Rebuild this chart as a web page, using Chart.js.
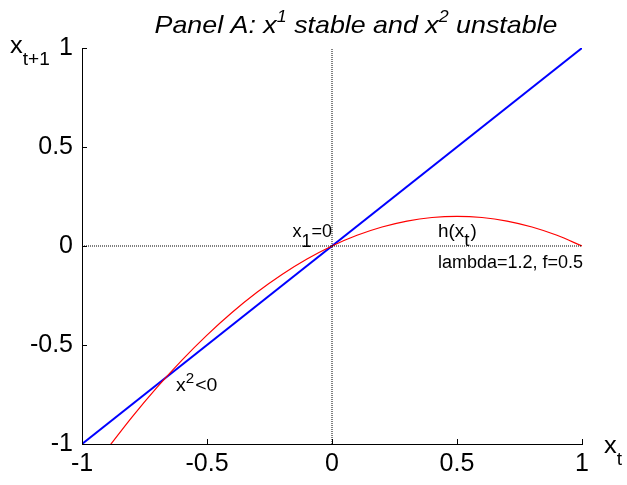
<!DOCTYPE html>
<html>
<head>
<meta charset="utf-8">
<script src="https://cdn.jsdelivr.net/npm/chart.js@4/dist/chart.umd.min.js"></script>
<style>
html,body{margin:0;padding:0;background:#fff;}
#wrap{width:627px;height:485px;position:relative;}
</style>
</head>
<body>
<div id="wrap"><canvas id="c" width="627" height="485"></canvas></div>
<script>
// ---- data ----
const hX = [-0.9, -0.8, -0.7, -0.6, -0.5, -0.4, -0.3, -0.2, -0.1, 0, 0.1, 0.2, 0.3, 0.4, 0.5, 0.6, 0.7, 0.8, 0.9, 1.0];
const hY = [-1.026, -0.864, -0.714, -0.576, -0.45, -0.336, -0.234, -0.144, -0.066, 0, 0.054, 0.096, 0.126, 0.144, 0.15, 0.144, 0.126, 0.096, 0.054, 0];
const diagX = [-1, 1];
const diagY = [-1, 1];
const zeroLineX = [-1, 1];
const zeroLineY = [0, 0];
const tickValues = [-1, -0.5, 0, 0.5, 1];
const tickLabels = ['-1', '-0.5', '0', '0.5', '1'];
const titleParts = [
  {t: 'Panel A: x', s: 24}, {t: '1', s: 16, dy: -11}, {t: ' stable and x', s: 24},
  {t: '2', s: 16, dy: -11}, {t: ' unstable', s: 24}
];

const FONT = '"Liberation Sans", Arial, sans-serif';
const pts = (xs, ys) => xs.map((x, i) => ({x: x, y: ys[i]}));

function drawRich(ctx, x, y, parts, align, italic, sx) {
  sx = sx || 1;
  ctx.save();
  ctx.textBaseline = 'alphabetic';
  ctx.textAlign = 'left';
  ctx.fillStyle = '#000';
  let w = 0;
  parts.forEach(p => { ctx.font = (italic ? 'italic ' : '') + p.s + 'px ' + FONT; w += ctx.measureText(p.t).width + (p.gap || 0); });
  w *= sx;
  let start = align === 'center' ? x - w / 2 : (align === 'right' ? x - w : x);
  ctx.translate(start, y);
  ctx.scale(sx, 1);
  let cx = 0;
  parts.forEach(p => {
    ctx.font = (italic ? 'italic ' : '') + p.s + 'px ' + FONT;
    cx += (p.gap || 0);
    ctx.fillText(p.t, cx, (p.dy || 0));
    cx += ctx.measureText(p.t).width;
  });
  ctx.restore();
}

const decor = {
  id: 'decor',
  afterDatasetsDraw(chart) {
    const ctx = chart.ctx, xs = chart.scales.x, ys = chart.scales.y, a = chart.chartArea;
    // inward ticks
    ctx.save();
    ctx.strokeStyle = '#000';
    ctx.lineWidth = 1;
    tickValues.forEach(v => {
      const py = Math.round(ys.getPixelForValue(v)) + 0.5;
      ctx.beginPath(); ctx.moveTo(a.left, py); ctx.lineTo(a.left + 5, py); ctx.stroke();
      const px = Math.round(xs.getPixelForValue(v)) + 0.5;
      ctx.beginPath(); ctx.moveTo(px, a.bottom); ctx.lineTo(px, a.bottom - 5); ctx.stroke();
    });
    ctx.restore();
    // annotations
    drawRich(ctx, xs.getPixelForValue(0), ys.getPixelForValue(0.045),
      [{t: 'x', s: 18}, {t: '1', s: 18, dy: 10}, {t: '=0', s: 18}], 'right');
    drawRich(ctx, xs.getPixelForValue(0.424), ys.getPixelForValue(0.045),
      [{t: 'h(x', s: 18}, {t: 't', s: 18, dy: 9}, {t: ')', s: 18, gap: 1}], 'left', false, 1.05);
    drawRich(ctx, xs.getPixelForValue(0.424), ys.getPixelForValue(-0.111),
      [{t: 'lambda=1.2, f=0.5', s: 18}], 'left');
    drawRich(ctx, xs.getPixelForValue(-0.624), ys.getPixelForValue(-0.732),
      [{t: 'x', s: 18}, {t: '2', s: 14, dy: -8}, {t: '<0', s: 18, gap: 1}], 'left', false, 1.08);
    // axis labels
    drawRich(ctx, a.left - 72, a.top + 5,
      [{t: 'x', s: 24}, {t: 't+1', s: 18, dy: 12}], 'left', false, 1.06);
    drawRich(ctx, a.right + 22, a.bottom + 9,
      [{t: 'x', s: 24}, {t: 't', s: 18, dy: 12}], 'left', false, 1.06);
    // title
    drawRich(ctx, (a.left + a.right) / 2 + 24, 33, titleParts, 'center', true, 1.117);
  }
};

new Chart(document.getElementById('c'), {
  type: 'scatter',
  data: {
    datasets: [
      {data: pts(zeroLineX, zeroLineY), showLine: true, borderColor: '#000', borderWidth: 1, borderDash: [1, 1], pointRadius: 0},
      {data: pts(zeroLineY, zeroLineX), showLine: true, borderColor: '#000', borderWidth: 1, borderDash: [1, 1], pointRadius: 0},
      {data: pts(hX, hY), showLine: true, borderColor: '#ff0000', borderWidth: 1.2, pointRadius: 0, cubicInterpolationMode: 'monotone'},
      {data: pts(diagX, diagY), showLine: true, borderColor: '#0000ff', borderWidth: 2, pointRadius: 0}
    ]
  },
  options: {
    responsive: false,
    animation: false,
    events: [],
    layout: {padding: {top: 48, right: 45, left: 0, bottom: 0}},
    plugins: {legend: {display: false}, tooltip: {enabled: false}, title: {display: false}},
    scales: {
      x: {
        type: 'linear', min: -1, max: 1,
        afterFit(s) { s.height = 41; },
        afterBuildTicks(s) { s.ticks = tickValues.map(v => ({value: v})); },
        ticks: {callback: (v) => tickLabels[tickValues.indexOf(v)], color: '#000', font: {family: FONT, size: 25}, padding: 5, maxRotation: 0, autoSkip: false},
        grid: {drawOnChartArea: false, drawTicks: false, color: 'rgba(0,0,0,0)'},
        border: {display: true, color: '#000', width: 1}
      },
      y: {
        type: 'linear', min: -1, max: 1,
        afterFit(s) { s.width = 82; },
        afterBuildTicks(s) { s.ticks = tickValues.map(v => ({value: v})); },
        ticks: {callback: (v) => tickLabels[tickValues.indexOf(v)], color: '#000', font: {family: FONT, size: 25}, padding: 9, autoSkip: false},
        grid: {drawOnChartArea: false, drawTicks: false, color: 'rgba(0,0,0,0)'},
        border: {display: true, color: '#000', width: 1}
      }
    }
  },
  plugins: [decor]
});
</script>
</body>
</html>
